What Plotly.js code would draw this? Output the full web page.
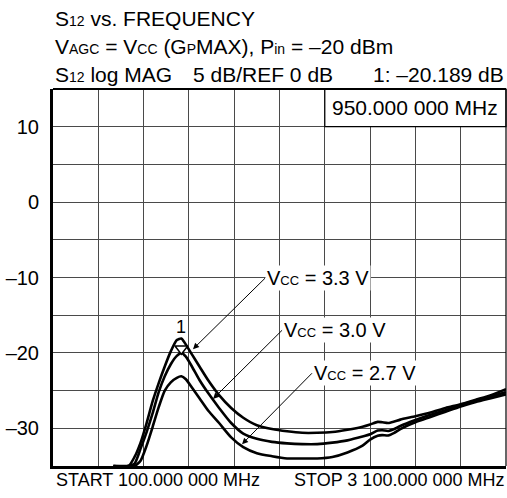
<!DOCTYPE html>
<html>
<head>
<meta charset="utf-8">
<script src="https://cdn.plot.ly/plotly-3.0.1.min.js"></script>
<style>html,body{margin:0;padding:0;background:#fff;}#chart{width:507px;height:498px;}</style>
</head>
<body>
<div id="chart"></div>
<script>
// ---- data ----
const freqMHz = [500, 600, 640, 680, 720, 760, 800, 840, 880, 920, 950, 980, 1020, 1070, 1130, 1200, 1280, 1360, 1450, 1550, 1650, 1750, 1850, 1950, 2050, 2150, 2200, 2250, 2280, 2320, 2360, 2400, 2500, 2600, 2700, 2800, 2900, 3000, 3100];
const s12_vcc33 = [-35, -35, -33.8, -31.9, -29.3, -26.4, -24.0, -21.8, -19.8, -18.3, -18.1, -18.9, -20.2, -21.8, -23.7, -25.6, -27.3, -28.6, -29.6, -30.1, -30.4, -30.6, -30.6, -30.5, -30.2, -29.8, -29.5, -29.15, -29.2, -29.3, -29.1, -28.85, -28.4, -27.9, -27.3, -26.8, -26.2, -25.6, -24.8];
const s12_vcc30 = [-35, -35, -34.7, -32.7, -30.5, -28.0, -25.2, -23.1, -21.5, -20.4, -20.0, -20.5, -21.8, -23.6, -25.4, -27.3, -29.3, -30.7, -31.4, -31.8, -32.0, -32.1, -32.1, -31.9, -31.6, -31.1, -30.8, -30.3, -30.25, -30.35, -30.1, -29.7, -28.9, -28.2, -27.6, -26.9, -26.3, -25.8, -25.2];
const s12_vcc27 = [-35, -35, -35, -34.3, -32.3, -29.8, -27.2, -25.0, -23.9, -23.3, -23.1, -23.5, -24.6, -26.0, -27.7, -29.3, -31.2, -32.5, -33.3, -33.7, -34.0, -34.0, -34.0, -33.8, -33.2, -32.3, -31.5, -31.0, -30.9, -30.95, -30.6, -30.1, -29.2, -28.5, -27.8, -27.1, -26.5, -26.0, -25.5];
const seriesNames = ['VCC = 3.3 V', 'VCC = 3.0 V', 'VCC = 2.7 V'];
const yTickVals = [-30, -20, -10, 0, 10];
const yTickText = ['\u201330', '\u201320', '\u201310', '0', '10'];
const markerFreqMHz = 950;
const markerDb = -20.189;
const startFreqText = 'START 100.000 000 MHz';
const stopFreqText = 'STOP 3 100.000 000 MHz';
const markerFreqText = '950.000 000 MHz';

// ---- styling ----
const FONT = '"Liberation Sans", Arial, Helvetica, sans-serif';
const sub = (t, s) => '<span style="font-size:' + (s || 13) + 'px">' + t + '</span>';
const lineStyle = {color: '#000', width: 2.6, shape: 'spline', smoothing: 0.6};
const gridColor = '#4a4a4a';

const traces = [s12_vcc33, s12_vcc30, s12_vcc27].map((ys, i) => ({
  x: freqMHz, y: ys, type: 'scatter', mode: 'lines', name: seriesNames[i],
  line: lineStyle, hoverinfo: 'skip', showlegend: false
}));
// marker 1 triangle (tip on the trace)
traces.push({
  x: [markerFreqMHz], y: [markerDb + 0.75], type: 'scatter', mode: 'markers',
  marker: {symbol: 'triangle-down', size: 11, color: '#fff', line: {color: '#000', width: 1.5}},
  hoverinfo: 'skip', showlegend: false
});

const txt = (size) => ({family: FONT, size: size, color: '#000'});

function callout(label, tipX, tipY, tailX, tailY) {
  return {
    text: label, x: tipX, y: tipY, xref: 'x', yref: 'y',
    ax: tailX, ay: tailY, axref: 'x', ayref: 'y',
    xanchor: 'left', yanchor: 'middle',
    showarrow: true, arrowhead: 2, arrowsize: 1.2, arrowwidth: 1, arrowcolor: '#000',
    bgcolor: '#fff', borderpad: 1, font: txt(20)
  };
}

const H = 21;
const annotations = [
  // header lines
  {text: 'S' + sub('12', 14) + ' vs. FREQUENCY', xref: 'paper', yref: 'paper', x: 0, y: 1, xanchor: 'left', yanchor: 'middle', yshift: 71, showarrow: false, font: txt(H)},
  {text: 'V' + sub('AGC', 14) + ' = V' + sub('CC', 14) + ' (G' + sub('P', 14) + 'MAX), P' + sub('in', 14) + ' = \u201320 dBm', xref: 'paper', yref: 'paper', x: 0, y: 1, xanchor: 'left', yanchor: 'middle', yshift: 43, showarrow: false, font: txt(H)},
  {text: 'S' + sub('12', 14) + ' log MAG', xref: 'paper', yref: 'paper', x: 0, y: 1, xanchor: 'left', yanchor: 'middle', yshift: 15, showarrow: false, font: txt(H)},
  {text: '5 dB/REF 0 dB', xref: 'paper', yref: 'paper', x: 0.304, y: 1, xanchor: 'left', yanchor: 'middle', yshift: 15, showarrow: false, font: txt(H)},
  {text: '1: \u2013' + Math.abs(markerDb).toFixed(3) + ' dB', xref: 'paper', yref: 'paper', x: 1, y: 1, xanchor: 'right', yanchor: 'middle', yshift: 15, showarrow: false, font: txt(H)},
  // marker readout box text
  {text: markerFreqText, xref: 'paper', yref: 'paper', x: 0.8, y: 0.95, xanchor: 'center', yanchor: 'middle', showarrow: false, font: txt(H)},
  // marker number
  {text: '1', x: markerFreqMHz, y: markerDb, xref: 'x', yref: 'y', xanchor: 'center', yanchor: 'bottom', yshift: 15, showarrow: false, font: txt(18)},
  // bottom start / stop
  {text: startFreqText, xref: 'paper', yref: 'paper', x: 0, y: 0, xanchor: 'left', yanchor: 'middle', xshift: 1, yshift: -14, showarrow: false, font: txt(18)},
  {text: stopFreqText, xref: 'paper', yref: 'paper', x: 1, y: 0, xanchor: 'right', yanchor: 'middle', xshift: 0, yshift: -14, showarrow: false, font: txt(18)},
  // curve callouts
  callout('V' + sub('CC') + ' = 3.3 V', 1027, -19.5, 1504, -10.1),
  callout('V' + sub('CC') + ' = 3.0 V', 1160, -26.1, 1617, -17.0),
  callout('V' + sub('CC') + ' = 2.7 V', 1352, -32.1, 1815, -22.7)
];

const shapes = [
  // marker readout box (white, covers grid)
  {type: 'rect', xref: 'paper', yref: 'paper', x0: 0.6, x1: 1, y0: 0.9, y1: 1, fillcolor: '#fff', line: {color: '#000', width: 1.2}, layer: 'above'},
  // top and right frame
  {type: 'line', xref: 'paper', yref: 'paper', x0: 0, x1: 1, y0: 1, y1: 1, line: {color: '#000', width: 2}, layer: 'above'},
  {type: 'line', xref: 'paper', yref: 'paper', x0: 1, x1: 1, y0: 0, y1: 1, line: {color: '#000', width: 1.2}, layer: 'above'}
];

const layout = {
  width: 507, height: 498,
  margin: {l: 53, r: 1, t: 89, b: 32, pad: 0},
  paper_bgcolor: '#fff', plot_bgcolor: '#fff',
  font: {family: FONT, color: '#000'},
  showlegend: false,
  xaxis: {
    range: [100, 3100], dtick: 300, tick0: 100, showticklabels: false, ticks: '',
    showgrid: true, gridcolor: gridColor, gridwidth: 1, zeroline: false,
    showline: true, linecolor: '#000', linewidth: 3, fixedrange: true
  },
  yaxis: {
    range: [-35, 15], tickvals: yTickVals, ticktext: yTickText, ticks: '',
    tickfont: {family: FONT, size: 20, color: '#000'}, ticklabelstandoff: 7,
    showgrid: true, gridcolor: gridColor, gridwidth: 1, zeroline: false,
    minor: {dtick: 5, tick0: -35, showgrid: true, gridcolor: gridColor, gridwidth: 1, ticks: ''},
    showline: true, linecolor: '#000', linewidth: 3, fixedrange: true
  },
  annotations: annotations,
  shapes: shapes
};

Plotly.newPlot('chart', traces, layout, {staticPlot: true, displayModeBar: false});
</script>
</body>
</html>
